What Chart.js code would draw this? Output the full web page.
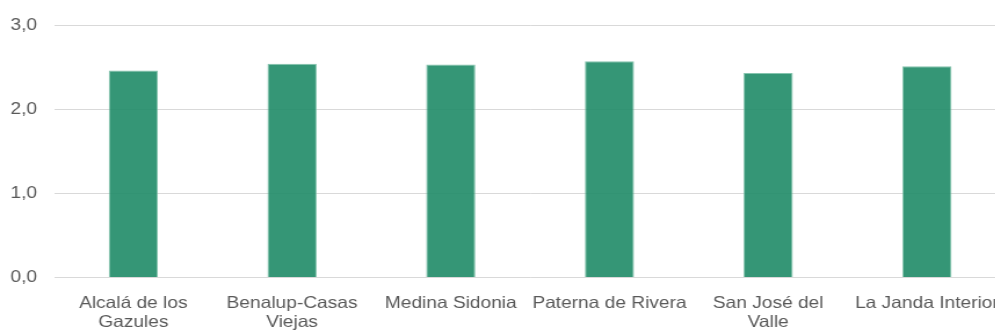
<!DOCTYPE html>
<html>
<head>
<meta charset="utf-8">
<script src="https://cdn.jsdelivr.net/npm/chart.js@4"></script>
<style>
  html, body { margin: 0; padding: 0; background: #fff; overflow: hidden; }
  /* the original picture is stretched horizontally, so the canvas is too */
  #barChart { display: block; width: 1008px; height: 332px; }
</style>
</head>
<body>
<canvas id="barChart" width="869" height="332" style="width:1008px;height:332px"></canvas>
<script>
// Categories (multi-line labels as in the original)
const categories = [
  ['Alcalá de los', 'Gazules'],
  ['Benalup-Casas', 'Viejas'],
  'Medina Sidonia',
  'Paterna de Rivera',
  ['San José del', 'Valle'],
  'La Janda Interior'
];

// Values
const values = [2.46, 2.54, 2.53, 2.57, 2.43, 2.51];

// Y axis ticks
const yTicks = [0, 1, 2, 3];

const fontFamily = "'Liberation Sans', Arial, sans-serif";

const ctx = document.getElementById('barChart').getContext('2d');

new Chart(ctx, {
  type: 'bar',
  data: {
    labels: categories,
    datasets: [{
      data: values,
      backgroundColor: 'rgba(31, 139, 103, 0.9)',
      borderColor: 'rgba(120, 190, 165, 0.9)',
      borderWidth: 1,
      categoryPercentage: 1,
      barPercentage: 0.31
    }]
  },
  options: {
    responsive: false,
    maintainAspectRatio: false,
    animation: false,
    devicePixelRatio: 1,
    layout: { padding: { top: 25, left: 0, right: 0, bottom: 0 } },
    plugins: {
      legend: { display: false },
      tooltip: { enabled: false }
    },
    scales: {
      x: {
        grid: { display: false },
        border: { display: false },
        ticks: {
          color: '#595959',
          font: { family: fontFamily, size: 16.5, lineHeight: 1.15 },
          autoSkip: false,
          maxRotation: 0,
          padding: 8
        },
        afterFit: function(scale) { scale.height = 54.5; }
      },
      y: {
        min: yTicks[0],
        max: yTicks[yTicks.length - 1],
        afterBuildTicks: function(scale) {
          scale.ticks = yTicks.map(v => ({ value: v }));
        },
        grid: { color: '#d9d9d9', lineWidth: 1, drawTicks: false },
        border: { display: false },
        ticks: {
          color: '#595959',
          font: { family: fontFamily, size: 16.5 },
          padding: 14.5,
          callback: function(value) {
            return value.toFixed(1).replace('.', ',');
          }
        },
        afterFit: function(scale) { scale.width = 46.5; }
      }
    }
  }
});
</script>
</body>
</html>
